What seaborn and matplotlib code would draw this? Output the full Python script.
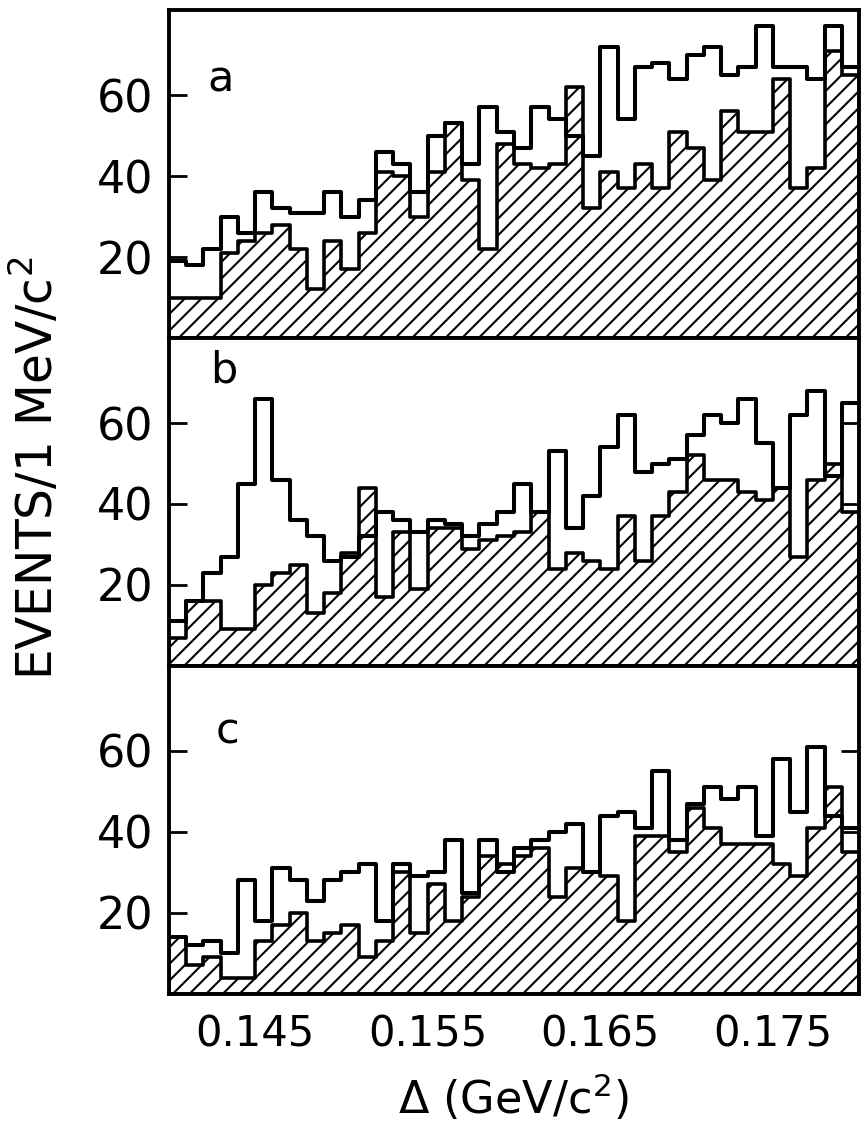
import numpy as np
import pandas as pd
import matplotlib
matplotlib.use("Agg")
import matplotlib.pyplot as plt
import seaborn as sns

# 1 MeV bins from 0.140 to 0.180 GeV/c^2
bin_edges = list(np.round(np.linspace(0.140, 0.180, 41), 4))
bin_centers = [0.5 * (lo + hi) for lo, hi in zip(bin_edges[:-1], bin_edges[1:])]

# open histograms (all events)
total_a = [19, 18, 22, 30, 26, 36, 32, 31, 31, 36, 30, 34, 46, 43, 36, 50, 53, 43, 57, 51,
           47, 57, 54, 50, 45, 72, 54, 67, 68, 64, 70, 72, 65, 67, 77, 67, 67, 64, 77, 67]
total_b = [11, 16, 23, 27, 45, 66, 46, 36, 32, 26, 27, 32, 38, 36, 33, 36, 35, 32, 35, 38,
           45, 38, 53, 34, 42, 54, 62, 48, 50, 51, 57, 62, 60, 66, 55, 44, 62, 68, 47, 65]
total_c = [14, 12, 13, 10, 28, 18, 31, 28, 23, 28, 30, 32, 18, 32, 29, 30, 38, 25, 38, 30,
           36, 38, 40, 42, 30, 44, 45, 41, 55, 38, 47, 51, 48, 51, 39, 58, 45, 61, 44, 41]

# hatched histograms
hatched_a = [10, 10, 10, 21, 24, 26, 28, 22, 12, 24, 17, 26, 41, 40, 30, 41, 53, 39, 22, 48,
             43, 42, 43, 62, 32, 41, 37, 43, 37, 51, 47, 39, 56, 51, 51, 64, 37, 42, 71, 65]
hatched_b = [7, 16, 16, 9, 9, 20, 23, 25, 13, 18, 28, 44, 17, 33, 19, 34, 34, 29, 31, 32,
             33, 38, 24, 28, 26, 24, 37, 26, 37, 43, 52, 46, 46, 43, 41, 44, 27, 46, 50, 38]
hatched_c = [14, 7, 9, 4, 4, 13, 17, 20, 13, 15, 17, 9, 13, 30, 15, 27, 18, 24, 34, 32,
             34, 36, 24, 31, 30, 29, 18, 39, 39, 35, 46, 41, 37, 37, 37, 32, 29, 41, 51, 35]

panel_letters = ["a", "b", "c"]
y_ticks = [20, 40, 60]
x_label_ticks = [0.145, 0.155, 0.165, 0.175]
x_minor_ticks = [0.150, 0.160, 0.170]

sns.set_style("ticks")
plt.rcParams["font.family"] = ["DejaVu Sans"]
plt.rcParams["mathtext.default"] = "regular"
plt.rcParams["hatch.linewidth"] = 1.5
plt.rcParams["hatch.color"] = "black"
for key in ["text.color", "axes.edgecolor", "xtick.color", "ytick.color",
            "axes.labelcolor"]:
    plt.rcParams[key] = "black"

fig = plt.figure(figsize=(8.61, 11.28), dpi=100)
left, right = 0.196, 0.998
bottom, top = 0.119, 0.991
ph = (top - bottom) / 3

panels = [(total_a, hatched_a), (total_b, hatched_b), (total_c, hatched_c)]
letter_pos = [(0.075, 0.79), (0.08, 0.90), (0.085, 0.80)]

for k, (tot, bkg) in enumerate(panels):
    df = pd.DataFrame({"delta": bin_centers, "total": tot, "hatched": bkg})
    ax = fig.add_axes([left, bottom + (2 - k) * ph, right - left, ph])
    sns.histplot(data=df, x="delta", weights="hatched", bins=bin_edges, element="step",
                 fill=True, hatch="//", facecolor="white", edgecolor="black",
                 linewidth=2.6, alpha=1, ax=ax)
    sns.histplot(data=df, x="delta", weights="total", bins=bin_edges, element="step",
                 fill=False, color="black", linewidth=2.9, ax=ax)

    ax.set_xlim(0.140, 0.180)
    ax.set_ylim(0, 81)
    ax.set_xlabel("")
    ax.set_ylabel("")
    ax.set_yticks(y_ticks)
    ax.set_yticklabels([str(v) for v in y_ticks])
    ax.set_xticks(x_label_ticks)
    ax.set_xticks(x_minor_ticks, minor=True)
    ax.tick_params(axis="y", which="both", direction="in", length=13, width=2,
                   left=True, right=True, labelsize=32, pad=11)
    ax.tick_params(axis="x", which="both", direction="in", length=13, width=2,
                   bottom=True, top=False, labelsize=30, pad=14)
    if k < 2:
        ax.tick_params(axis="x", labelbottom=False)
    else:
        ax.set_xticklabels(["0.145", "0.155", "0.165", "0.175"])
    for sp in ax.spines.values():
        sp.set_visible(True)
        sp.set_linewidth(2.8)
    lx, ly = letter_pos[k]
    ax.text(lx, ly, panel_letters[k], transform=ax.transAxes, fontsize=31,
            ha="center", va="center")

fig.text(0.042, 0.585, "EVENTS/1 MeV/c$^2$", rotation=90, fontsize=35,
         ha="center", va="center")
fig.text(0.596, 0.027, "Δ (GeV/c$^2$)", fontsize=32, ha="center", va="center")

fig.savefig("out.png", dpi=100)
